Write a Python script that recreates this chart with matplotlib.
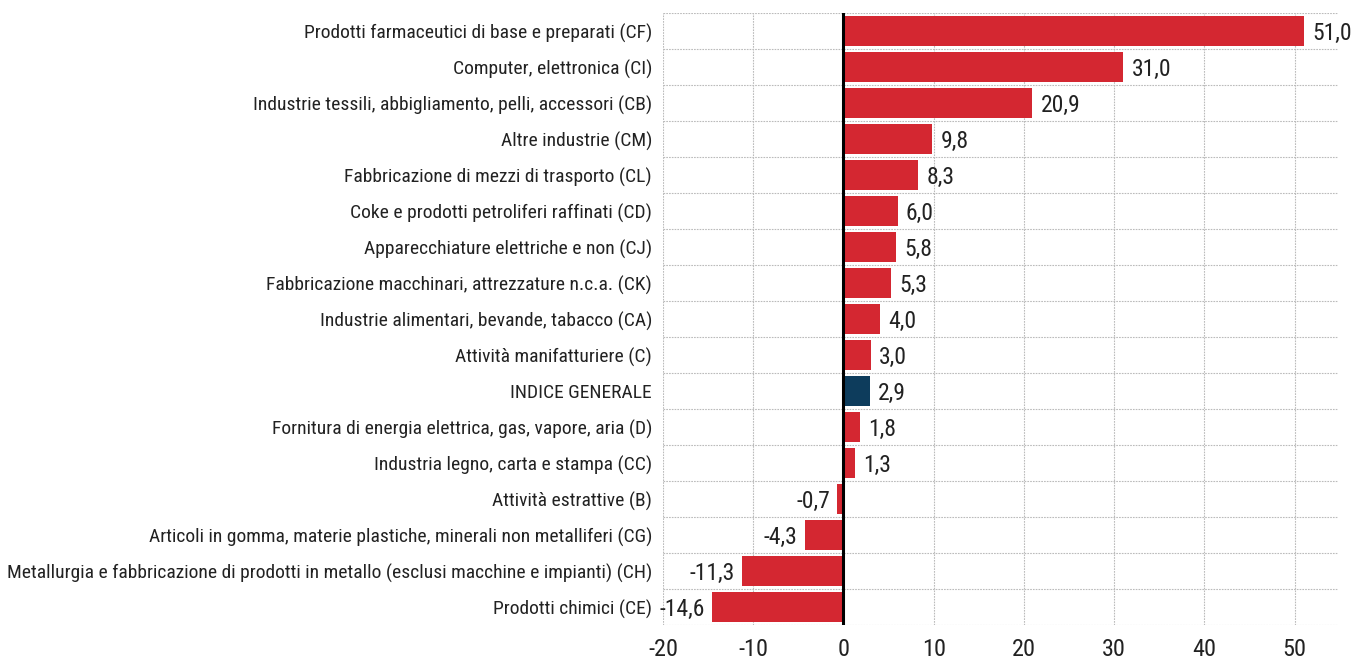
import matplotlib
matplotlib.use("Agg")
import matplotlib.pyplot as plt
from matplotlib import font_manager

categories = [
    "Prodotti farmaceutici di base e preparati (CF)",
    "Computer, elettronica (CI)",
    "Industrie tessili, abbigliamento, pelli, accessori (CB)",
    "Altre industrie (CM)",
    "Fabbricazione di mezzi di trasporto (CL)",
    "Coke e prodotti petroliferi raffinati (CD)",
    "Apparecchiature elettriche e non (CJ)",
    "Fabbricazione macchinari, attrezzature n.c.a. (CK)",
    "Industrie alimentari, bevande, tabacco (CA)",
    "Attività manifatturiere (C)",
    "INDICE GENERALE",
    "Fornitura di energia elettrica, gas, vapore, aria (D)",
    "Industria legno, carta e stampa (CC)",
    "Attività estrattive (B)",
    "Articoli in gomma, materie plastiche, minerali non metalliferi (CG)",
    "Metallurgia e fabbricazione di prodotti in metallo (esclusi macchine e impianti) (CH)",
    "Prodotti chimici (CE)",
]
values = [51.0, 31.0, 20.9, 9.8, 8.3, 6.0, 5.8, 5.3, 4.0, 3.0, 2.9, 1.8, 1.3, -0.7, -4.3, -11.3, -14.6]
highlight = "INDICE GENERALE"
x_ticks = [-20, -10, 0, 10, 20, 30, 40, 50]

names = {f.name for f in font_manager.fontManager.ttflist}
fam = "DejaVu Sans"
for cand in ["Liberation Sans Narrow", "Arial Narrow", "Roboto Condensed", "Archivo Narrow",
             "PT Sans Narrow", "Barlow Semi Condensed"]:
    if cand in names:
        fam = cand
        break
plt.rcParams["font.family"] = [fam, "DejaVu Sans"]

fig = plt.figure(figsize=(13.55, 6.62), dpi=100)
ax = fig.add_axes([663/1355, 1-625/662, (1338-663)/1355, (625-13)/662])

n = len(categories)
ypos = list(range(n))[::-1]
colors = ["#0d3c5c" if c == highlight else "#d42731" for c in categories]
ax.barh(ypos, values, height=0.82, color=colors, zorder=3)

for y, v in zip(ypos, values):
    txt = f"{v:.1f}".replace(".", ",")
    if v >= 0:
        ax.annotate(txt, (v, y), xytext=(6, -1.5), textcoords="offset points",
                    ha="left", va="center", fontsize=17, color="#222222")
    else:
        ax.annotate(txt, (v, y), xytext=(-5, -1.5), textcoords="offset points",
                    ha="right", va="center", fontsize=17, color="#222222")

ax.set_xlim(-20, 54.8)
ax.set_ylim(-0.5, n - 0.5)
ax.set_xticks(x_ticks)
ax.set_xticklabels([str(t) for t in x_ticks], fontsize=17.5, color="#222222")
ax.set_yticks(ypos)
ax.set_yticklabels(categories, fontsize=14, color="#222222")
ax.set_yticks([i + 0.5 for i in range(-1, n)], minor=True)
ax.tick_params(axis="both", which="both", length=0)
ax.tick_params(axis="y", pad=8)
ax.tick_params(axis="x", pad=9)
ax.grid(axis="x", which="major", color="#bbbbbb", linestyle=(0, (1.5, 1)), linewidth=0.8, zorder=0)
ax.grid(axis="y", which="minor", color="#bbbbbb", linestyle=(0, (1.5, 1)), linewidth=0.8, zorder=0)
for s in ax.spines.values():
    s.set_visible(False)
ax.axvline(0, color="black", linewidth=2.2, zorder=4)

fig.savefig("out.png", dpi=100)
